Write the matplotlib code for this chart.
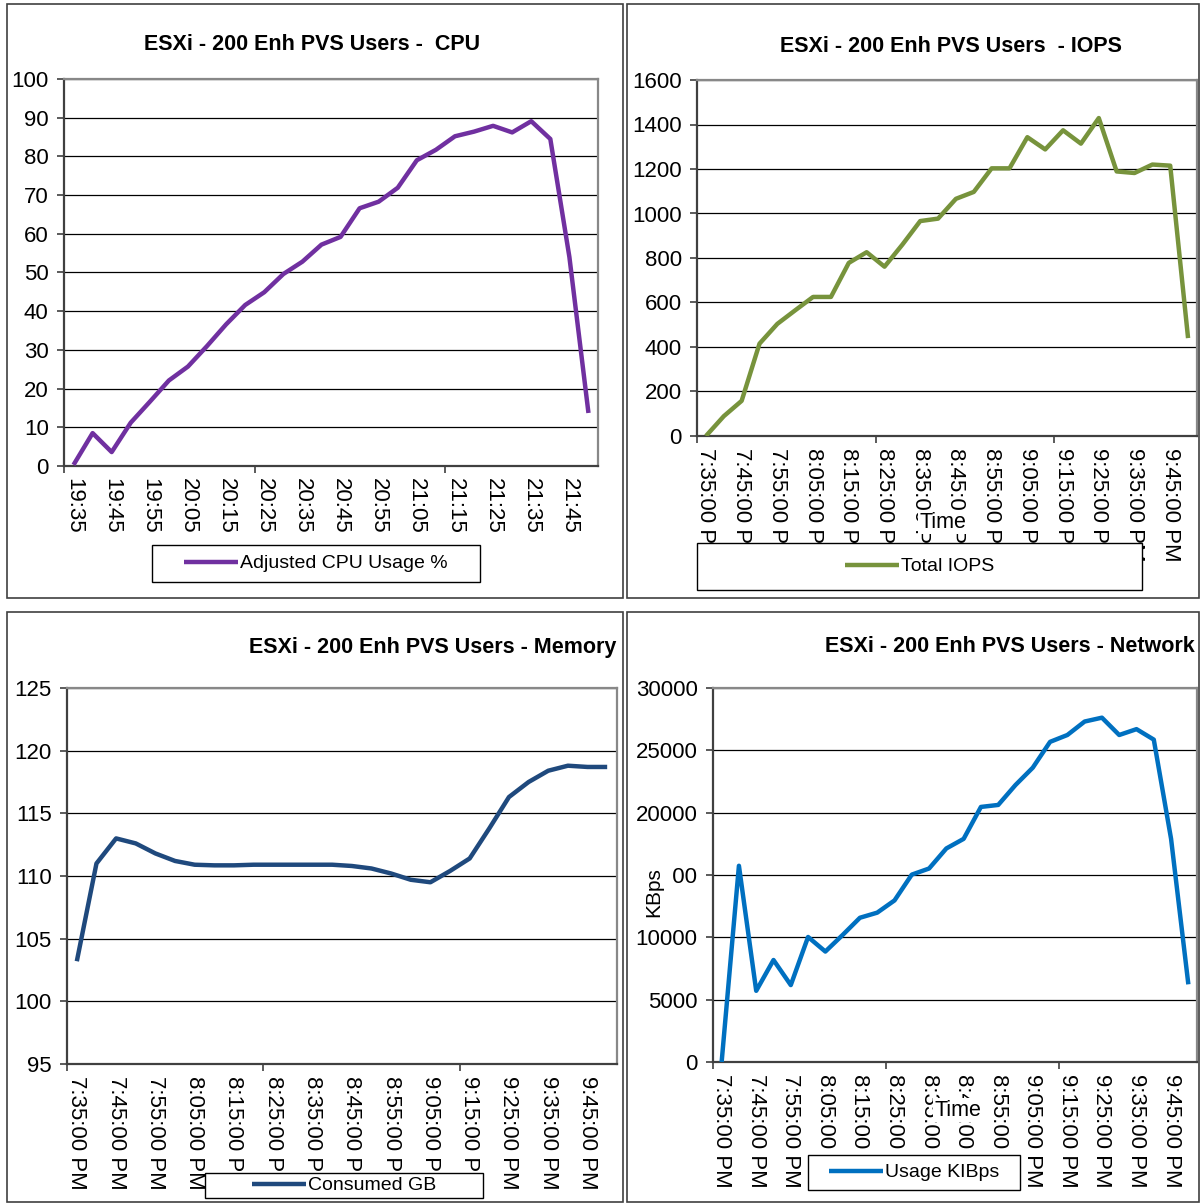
from matplotlib import pyplot as plt
from matplotlib.patches import Rectangle
import numpy as np

plt.rcParams['font.family'] = ['Liberation Sans', 'DejaVu Sans']

# ---- data ----
cpu_labels = ["19:35", "19:45", "19:55", "20:05", "20:15", "20:25", "20:35",
              "20:45", "20:55", "21:05", "21:15", "21:25", "21:35", "21:45"]
pm_labels = ["7:35:00 PM", "7:45:00 PM", "7:55:00 PM", "8:05:00 PM", "8:15:00 PM",
             "8:25:00 PM", "8:35:00 PM", "8:45:00 PM", "8:55:00 PM", "9:05:00 PM",
             "9:15:00 PM", "9:25:00 PM", "9:35:00 PM", "9:45:00 PM"]

cpu = [0.3, 8.5, 3.6, 11.2, 16.6, 22.1, 25.7, 31.0, 36.6, 41.6, 44.9, 49.6, 52.8, 57.2,
       59.2, 66.6, 68.3, 71.9, 79.0, 81.7, 85.2, 86.4, 87.9, 86.2, 89.1, 84.5, 54.0, 13.7]
iops = [0, 89, 158, 415, 504, 565, 625, 625, 778, 826, 761, 860, 966, 977,
        1066, 1097, 1203, 1203, 1343, 1288, 1374, 1314, 1429, 1189, 1182, 1220, 1215, 440]
mem = [103.2, 111.0, 113.0, 112.6, 111.8, 111.2, 110.9, 110.85, 110.85, 110.9, 110.9, 110.9,
       110.9, 110.9, 110.8, 110.6, 110.2, 109.7, 109.5, 110.4, 111.4, 113.8, 116.3, 117.5,
       118.4, 118.8, 118.7, 118.7]
net = [0, 15740, 5710, 8180, 6170, 10030, 8860, 10190, 11570, 11980, 12960, 15030, 15520,
       17130, 17900, 20460, 20620, 22220, 23610, 25680, 26230, 27310, 27620, 26230, 26700,
       25860, 17900, 6230]

W, H = 1200, 1203
fig = plt.figure(figsize=(W / 100, H / 100), dpi=100)

TICK_FS = 16
TITLE_FS = 15.5


def fx(px):
    return px / W


def fy(py):
    return 1 - py / H


def panel_border(x0, y0, x1, y1):
    fig.patches.append(Rectangle((fx(x0), fy(y1)), fx(x1 - x0), (y1 - y0) / H,
                                 transform=fig.transFigure, fill=False,
                                 edgecolor='#404040', lw=1.2, zorder=0.5))


def legend_box(x0, y0, x1, y1, line, label):
    fig.patches.append(Rectangle((fx(x0), fy(y1)), fx(x1 - x0), (y1 - y0) / H,
                                 transform=fig.transFigure, facecolor='white',
                                 edgecolor='black', lw=1.0, zorder=4))
    fig.legend([line], [label], loc='center', frameon=False, fontsize=14,
               bbox_to_anchor=(fx((x0 + x1) / 2), fy((y0 + y1) / 2)),
               handlelength=2.8, handletextpad=0.1, borderpad=0)


def make_axes(x0, y0, x1, y1, values, color, ymin, ymax, ystep, labels):
    ax = fig.add_axes([fx(x0), fy(y1), fx(x1 - x0), (y1 - y0) / H])
    n = len(values)
    x = np.arange(n)
    line, = ax.plot(x, values, color=color, lw=3.2, solid_joinstyle='round',
                    solid_capstyle='butt', zorder=3)
    ax.set_xlim(-0.5, n - 0.5)
    ax.set_ylim(ymin, ymax)
    ax.set_yticks(np.arange(ymin, ymax + ystep / 2, ystep))
    ax.yaxis.grid(True, color='black', lw=0.9)
    ax.set_axisbelow(True)
    # tick marks at category boundaries, labels every other category
    ax.set_xticks(np.arange(-0.5, n, 10))
    ax.set_xticklabels([])
    ax.set_xticks(np.arange(0, n, 2), minor=True)
    ax.set_xticklabels(labels, minor=True, rotation=270, va='top', ha='center',
                       fontsize=TICK_FS)
    ax.tick_params(axis='x', which='major', direction='out', length=5, width=1.2,
                   color='#404040')
    ax.tick_params(axis='x', which='minor', length=0, pad=9)
    ax.tick_params(axis='y', direction='out', length=5, width=1.2, color='#404040',
                   labelsize=TICK_FS, pad=6)
    for s in ('top', 'right'):
        ax.spines[s].set_color('#888888')
        ax.spines[s].set_linewidth(1.6)
    for s in ('left', 'bottom'):
        ax.spines[s].set_color('#404040')
        ax.spines[s].set_linewidth(1.6)
    return ax, line


# panel borders
panel_border(7, 4, 623, 598)
panel_border(627, 4, 1199, 598)
panel_border(7, 612, 623, 1202)
panel_border(627, 612, 1199, 1202)

# CPU
ax1, l1 = make_axes(64, 79, 598, 466, cpu, '#7030A0', 0, 100, 10, cpu_labels)
fig.text(fx(312), fy(44), "ESXi - 200 Enh PVS Users -  CPU", ha='center', va='center',
         fontsize=TITLE_FS, fontweight='bold')
legend_box(152, 545, 480, 582, l1, "Adjusted CPU Usage %")

# IOPS
ax2, l2 = make_axes(697, 80, 1197, 436, iops, '#77933C', 0, 1600, 200, pm_labels)
fig.text(fx(951), fy(47), "ESXi - 200 Enh PVS Users  - IOPS", ha='center', va='center',
         fontsize=TITLE_FS, fontweight='bold')
fig.text(fx(943), fy(522), "Time", ha='center', va='center', fontsize=15.5, zorder=3,
         bbox=dict(facecolor='white', edgecolor='none', pad=1))
legend_box(697, 543, 1142, 590, l2, "Total IOPS")

# Memory
ax3, l3 = make_axes(67, 688, 617, 1064, mem, '#1F497D', 95, 125, 5, pm_labels)
fig.text(fx(616), fy(647), "ESXi - 200 Enh PVS Users - Memory", ha='right', va='center',
         fontsize=TITLE_FS, fontweight='bold')
legend_box(205, 1173, 483, 1198, l3, "Consumed GB")

# Network
ax4, l4 = make_axes(713, 688, 1197, 1062, net, '#0070C0', 0, 30000, 5000, pm_labels)
fig.text(fx(1195), fy(647), "ESXi - 200 Enh PVS Users - Network", ha='right', va='center',
         fontsize=TITLE_FS, fontweight='bold')
fig.text(fx(958), fy(1110), "Time", ha='center', va='center', fontsize=15.5, zorder=3,
         bbox=dict(facecolor='white', edgecolor='none', pad=1))
fig.text(fx(654), fy(892), "KBps", ha='center', va='center', fontsize=15, rotation=90,
         zorder=3, bbox=dict(facecolor='white', edgecolor='none', pad=7))
legend_box(808, 1155, 1020, 1190, l4, "Usage KIBps")

fig.savefig("out.png", dpi=100, facecolor='white')
